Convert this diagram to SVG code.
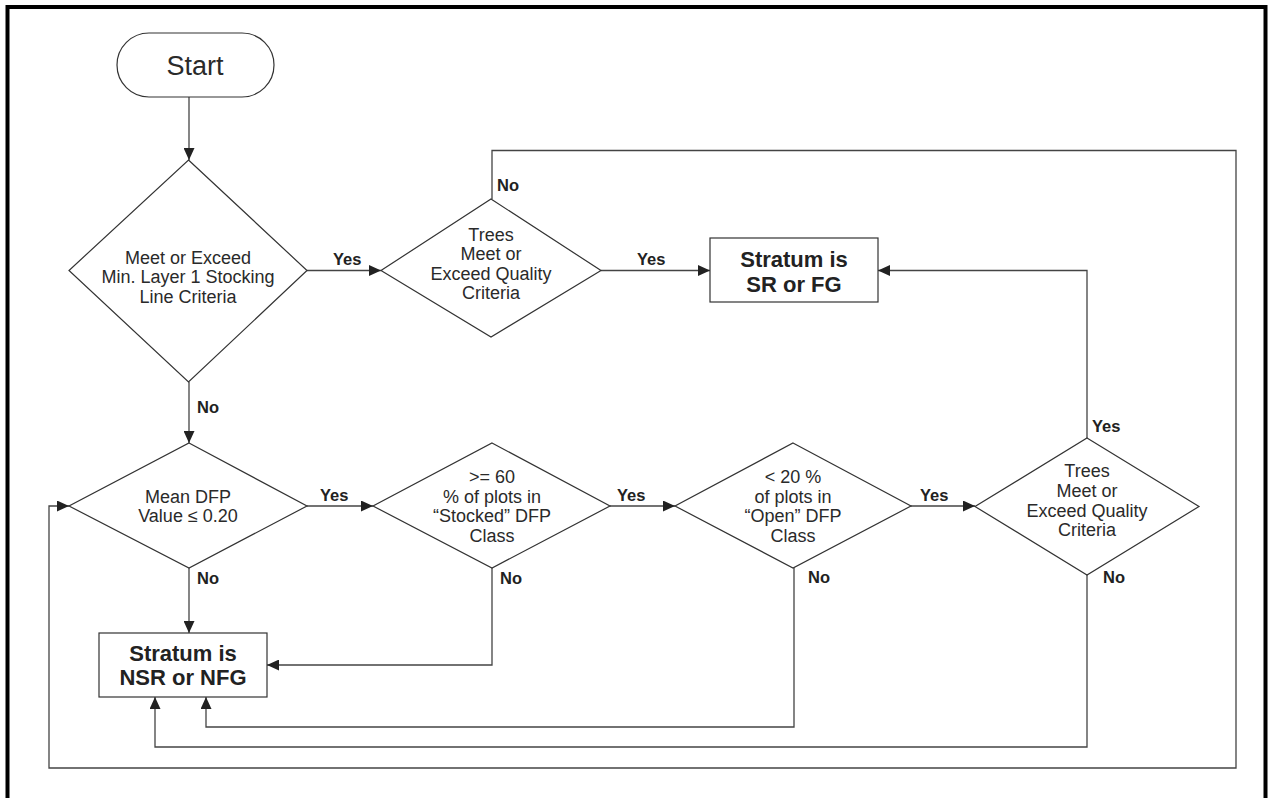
<svg xmlns="http://www.w3.org/2000/svg" width="1271" height="798" viewBox="0 0 1271 798">
<style>
.node{fill:#fff;stroke:#333;stroke-width:1.2}
.conn{fill:none;stroke:#444;stroke-width:1.3}
.t{font-family:"Liberation Sans",Arial,sans-serif;font-size:18px;fill:#2a2a2a;text-anchor:middle}
.lbl{font-family:"Liberation Sans",Arial,sans-serif;font-size:16.5px;font-weight:bold;fill:#222}
.bt{font-family:"Liberation Sans",Arial,sans-serif;font-size:22px;font-weight:bold;fill:#222;text-anchor:middle}
</style>
<defs>
<marker id="ah" markerUnits="userSpaceOnUse" markerWidth="13" markerHeight="11" refX="12" refY="5.5" orient="auto">
<path d="M0,0 L12,5.5 L0,11 Z" fill="#222"/>
</marker>
</defs>
<rect x="0" y="0" width="1271" height="798" fill="#fff"/>
<rect x="7.5" y="7" width="1258" height="900" fill="none" stroke="#000" stroke-width="4"/>

<g id="connectors">
<path class="conn" d="M189,97 V160" marker-end="url(#ah)"/>
<path class="conn" d="M307,270.5 H381" marker-end="url(#ah)"/>
<path class="conn" d="M601,270.5 H710" marker-end="url(#ah)"/>
<path class="conn" d="M492,199 V150.5 H1236 V768 H49 V506 H69" marker-end="url(#ah)"/>
<path class="conn" d="M189,382 V443" marker-end="url(#ah)"/>
<path class="conn" d="M307,506 H373" marker-end="url(#ah)"/>
<path class="conn" d="M610,506 H675" marker-end="url(#ah)"/>
<path class="conn" d="M911,506 H975" marker-end="url(#ah)"/>
<path class="conn" d="M1087,438 V270.5 H878" marker-end="url(#ah)"/>
<path class="conn" d="M189,568 V633" marker-end="url(#ah)"/>
<path class="conn" d="M492,568 V665 H267" marker-end="url(#ah)"/>
<path class="conn" d="M794,568 V727 H206 V697" marker-end="url(#ah)"/>
<path class="conn" d="M1087,575 V747 H155 V697" marker-end="url(#ah)"/>
<text class="lbl" x="333" y="265">Yes</text>
<text class="lbl" x="637" y="265">Yes</text>
<text class="lbl" x="497" y="191">No</text>
<text class="lbl" x="197" y="413">No</text>
<text class="lbl" x="320" y="501">Yes</text>
<text class="lbl" x="617" y="501">Yes</text>
<text class="lbl" x="920" y="501">Yes</text>
<text class="lbl" x="1092" y="432">Yes</text>
<text class="lbl" x="197" y="584">No</text>
<text class="lbl" x="500" y="584">No</text>
<text class="lbl" x="808" y="583">No</text>
<text class="lbl" x="1103" y="583">No</text>
</g>

<g id="start">
<rect class="node" x="117" y="33" width="157" height="64" rx="32" ry="32"/>
<text class="t" x="195" y="75" style="font-size:27px">Start</text>
</g>

<g id="d1">
<polygon class="node" points="188.5,160 307,270.5 188.5,382 69,270.5"/>
<text class="t" x="188" y="264.3">Meet or Exceed</text>
<text class="t" x="188" y="283.3">Min. Layer 1 Stocking</text>
<text class="t" x="188" y="302.5">Line Criteria</text>
</g>

<g id="d2">
<polygon class="node" points="491,199 601,270.5 491,337 381,270.5"/>
<text class="t" x="491" y="241">Trees</text>
<text class="t" x="491" y="260.3">Meet or</text>
<text class="t" x="491" y="279.5">Exceed Quality</text>
<text class="t" x="491" y="298.7">Criteria</text>
</g>

<g id="sr">
<rect class="node" x="710" y="238" width="168" height="64"/>
<text class="bt" x="794" y="266.5">Stratum is</text>
<text class="bt" x="794" y="291.5">SR or FG</text>
</g>

<g id="d3">
<polygon class="node" points="189,443 307,506 189,568 69,506"/>
<text class="t" x="188" y="502.7">Mean DFP</text>
<text class="t" x="188" y="521.7">Value ≤ 0.20</text>
</g>

<g id="d4">
<polygon class="node" points="492,443 610,506 492,568 373,506"/>
<text class="t" x="492" y="482.7">&gt;= 60</text>
<text class="t" x="492" y="502.7">% of plots in</text>
<text class="t" x="492" y="522.3">“Stocked” DFP</text>
<text class="t" x="492" y="542.3">Class</text>
</g>

<g id="d5">
<polygon class="node" points="793,443 911,506 793,568 675,506"/>
<text class="t" x="793" y="482.7">&lt; 20 %</text>
<text class="t" x="793" y="502.7">of plots in</text>
<text class="t" x="793" y="522.3">“Open” DFP</text>
<text class="t" x="793" y="542.3">Class</text>
</g>

<g id="d6">
<polygon class="node" points="1087,438 1199,506.5 1087,575 975,506.5"/>
<text class="t" x="1087" y="477.3">Trees</text>
<text class="t" x="1087" y="497.3">Meet or</text>
<text class="t" x="1087" y="516.7">Exceed Quality</text>
<text class="t" x="1087" y="535.5">Criteria</text>
</g>

<g id="nsr">
<rect class="node" x="99" y="633" width="168" height="64"/>
<text class="bt" x="183" y="661">Stratum is</text>
<text class="bt" x="183" y="685">NSR or NFG</text>
</g>
</svg>
